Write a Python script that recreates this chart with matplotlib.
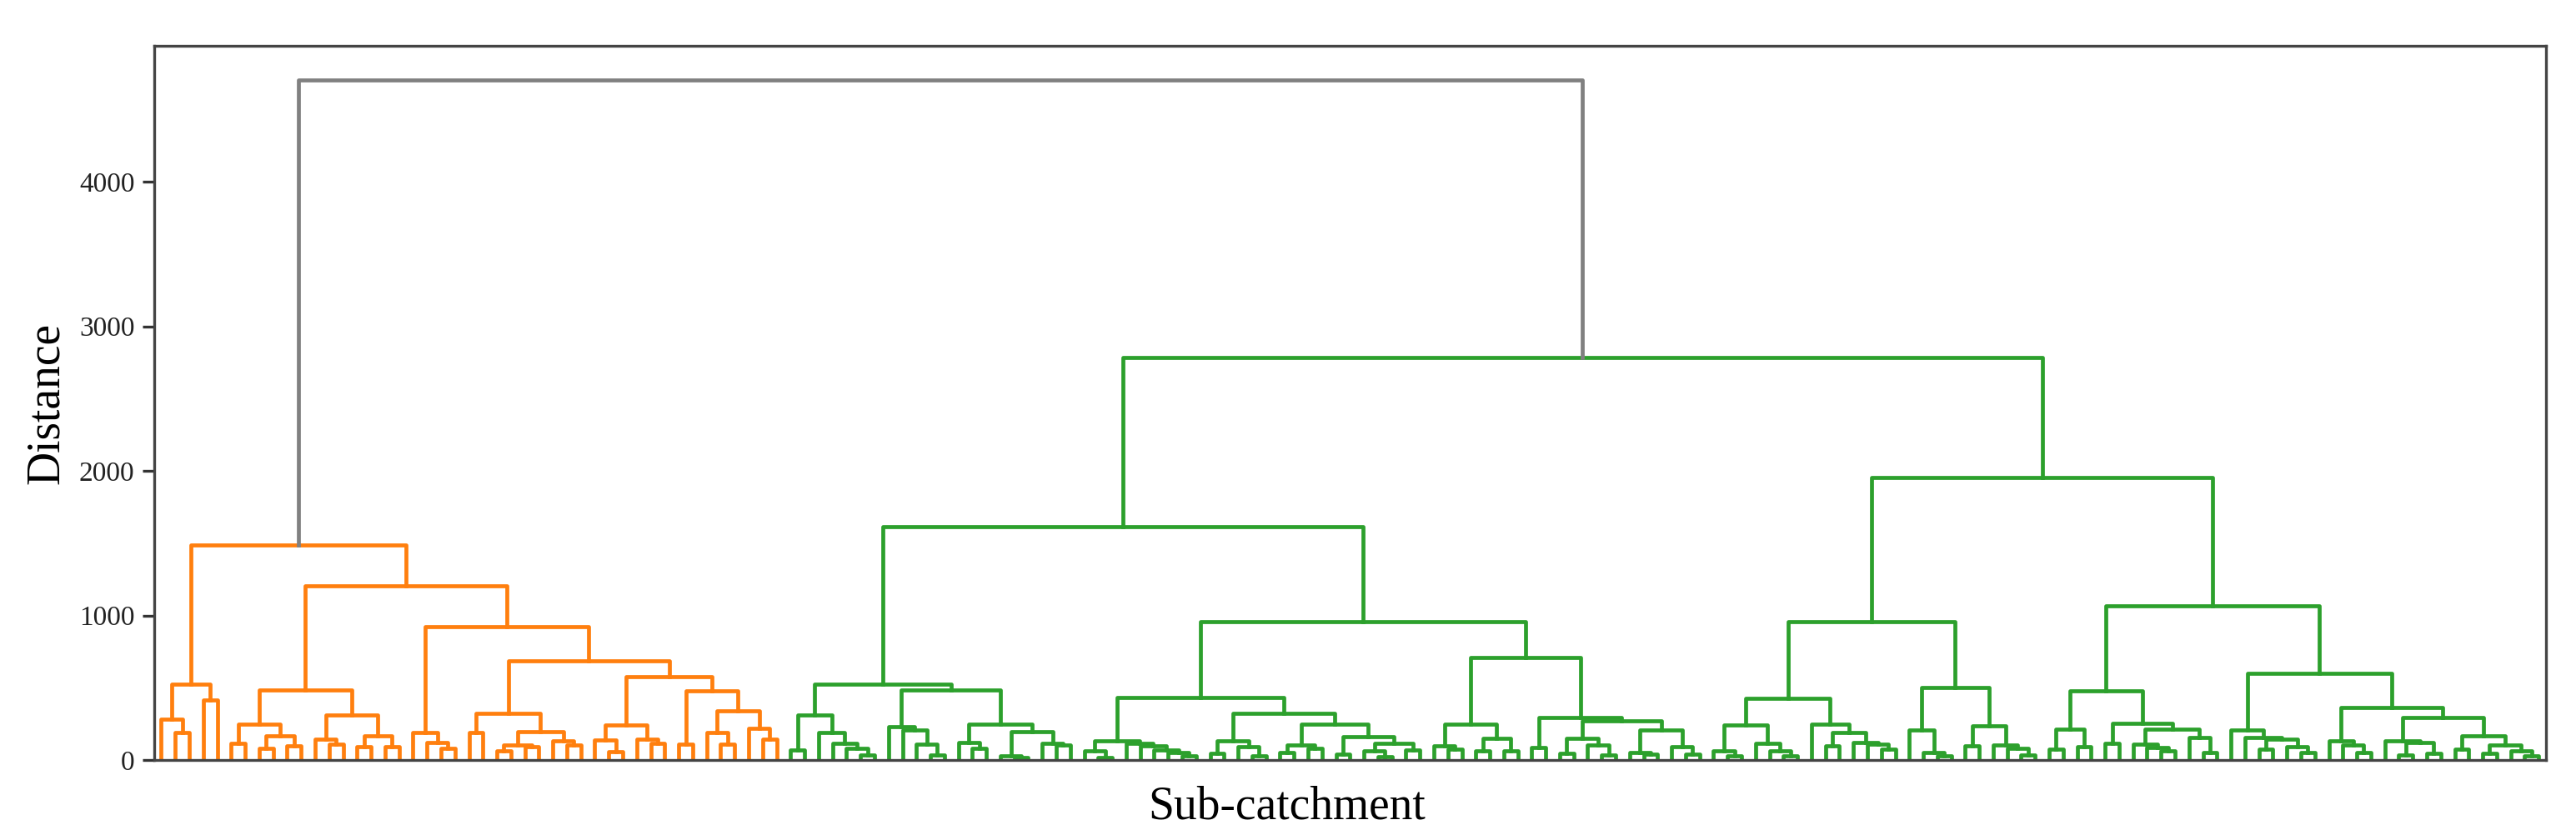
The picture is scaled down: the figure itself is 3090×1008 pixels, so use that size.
import matplotlib
matplotlib.use("Agg")
import matplotlib.pyplot as plt

# dendrogram: a node is (height, left, right), a leaf is L
L = 0

# orange cluster (45 sub-catchments)
orange_a = (522, (281, L, (189, L, L)), (416, L, L))
orange_b = (484, (250, (118, L, L), (166, (83, L, L), (98, L, L))),
            (314, (146, L, (108, L, L)), (170, (92, L, L), (92, L, L))))
orange_c = (189, L, (121, L, (83, L, L)))
orange_d = (324, (189, L, L), (197, (106, (64, L, L), (92, L, L)), (131, L, (106, L, L))))
orange_e = (243, (141, L, (58, L, L)), (146, L, (118, L, L)))
orange_f = (478, (108, L, L), (339, (189, L, (108, L, L)), (220, L, (146, L, L))))
orange_heights = [1489, 1205, 920, 686, 574]

# green cluster (126 sub-catchments)
green_a = (314, (69, L, L), (189, L, (118, L, (83, L, (35, L, L)))))
green_b = (231, L, (208, L, (112, L, (35, L, L))))
green_c = (250, (121, L, (83, L, L)), (198, (30, L, (15, L, L)), (116, L, (106, L, L))))
green_d = (132, (64, L, (15, L, L)), (116, L, (98, L, (70, L, (50, L, (30, L, L))))))
green_e = (324, (135, (44, L, L), (92, L, (31, L, L))),
           (250, (102, (54, L, L), (80, L, L)),
            (160, (38, L, L), (116, (64, L, (25, L, L)), (67, L, L)))))
green_f = (247, (98, L, (77, L, L)), (150, (64, L, L), (64, L, L)))
green_g = (295, (89, L, L), (270, (150, (44, L, L), (102, L, (35, L, L))),
                             (208, (50, L, (39, L, L)), (92, L, (38, L, L)))))
green_h = (424, (243, (64, L, (31, L, L)), (118, L, (64, L, (31, L, L)))),
           (250, L, (189, (98, L, L), (121, L, (110, L, (77, L, L))))))
green_i = (503, (208, L, (50, L, (31, L, L))), (237, (96, L, L), (102, L, (83, L, (35, L, L)))))
green_j = (477, (212, (77, L, L), (92, L, L)),
           (256, (118, L, L), (212, (112, L, (89, L, (64, L, L))), (154, L, (50, L, L)))))
green_k = (602, (208, L, (154, L, (146, (73, L, L), (92, L, (50, L, L))))),
           (366, (131, L, (102, L, (54, L, L))),
            (295, (135, L, (121, (35, L, L), (44, L, L))),
             (170, (77, L, L), (102, (44, L, L), (64, L, (31, L, L)))))))
green_heights = [2784, 1614, 527, 482, 955, 435, 712, 1955, 955, 1068]
root_height = 4705

orange = (orange_heights[0], orange_a,
          (orange_heights[1], orange_b,
           (orange_heights[2], orange_c,
            (orange_heights[3], orange_d,
             (orange_heights[4], orange_e, orange_f)))))
g = green_heights
green_left = (g[1], (g[2], green_a, (g[3], green_b, green_c)),
              (g[4], (g[5], green_d, green_e), (g[6], green_f, green_g)))
green_right = (g[7], (g[8], green_h, green_i), (g[9], green_j, green_k))
green = (g[0], green_left, green_right)

plt.rcParams['font.family'] = ['Liberation Serif', 'DejaVu Serif']
fig = plt.figure(figsize=(15.45, 5.04), dpi=200)
ax = fig.add_axes([0.0599, 0.0952, 0.9283, 0.8502])

count = [0]
lw = 1.7


def draw(node, color):
    if node == L:
        x = 5 + 10 * count[0]
        count[0] += 1
        return x, 0
    h, a, b = node
    xa, ya = draw(a, color)
    xb, yb = draw(b, color)
    ax.plot([xa, xa, xb, xb], [ya, h, h, yb], color=color, lw=lw)
    return (xa + xb) / 2, h


xo, ho = draw(orange, "#ff7f0e")
xg, hg = draw(green, "#2ca02c")
ax.plot([xo, xo, xg, xg], [ho, root_height, root_height, hg], color="grey", lw=lw)

n = count[0]
ax.set_xlim(0, 10 * n)
ax.set_ylim(0, root_height * 1.05)
ax.set_xticks([])
ax.set_yticks([0, 1000, 2000, 3000, 4000])
ax.tick_params(axis="y", labelsize=12, length=5, width=1.2, colors="#333333", labelcolor="#222222")
for s in ax.spines.values():
    s.set_color("#444444")
    s.set_linewidth(1.2)

ax.set_ylabel("Distance", fontsize=20)
ax.yaxis.set_label_coords(-0.036, 0.5)
ax.set_xlabel("Sub-catchment", fontsize=20)
ax.xaxis.set_label_coords(0.4735, -0.036)

fig.savefig("out.png", dpi=200)
